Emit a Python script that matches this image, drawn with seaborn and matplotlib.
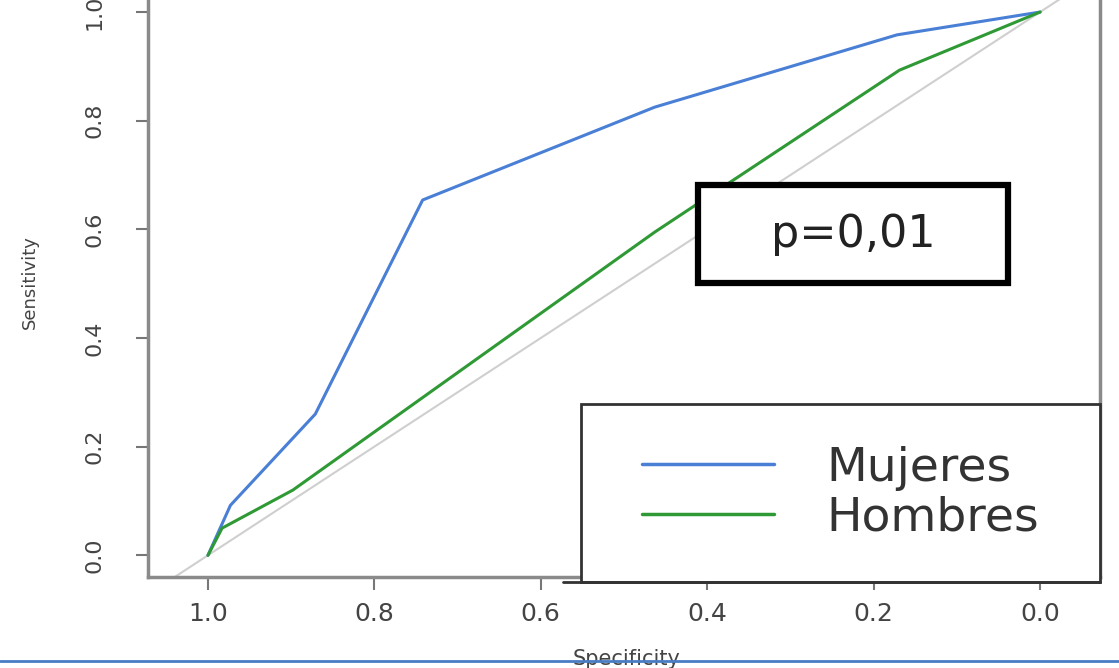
import matplotlib
matplotlib.use("Agg")
import matplotlib.pyplot as plt
import pandas as pd
import seaborn as sns
from matplotlib.lines import Line2D
from matplotlib.patches import Rectangle

# ROC points (specificity, sensitivity)
mujeres_spec = [1.0, 0.973, 0.871, 0.742, 0.463, 0.172, 0.0]
mujeres_sens = [0.0, 0.092, 0.26, 0.654, 0.825, 0.958, 1.0]
hombres_spec = [1.0, 0.983, 0.898, 0.463, 0.169, 0.0]
hombres_sens = [0.0, 0.05, 0.12, 0.595, 0.893, 1.0]
chance_spec = [1.0, 0.0]
chance_sens = [0.0, 1.0]

series_names = ["Mujeres", "Hombres"]
series_colors = ["#4a7fd6", "#2f9a35"]
tick_values = [0.0, 0.2, 0.4, 0.6, 0.8, 1.0]
p_label = "p=0,01"

df = pd.concat([
    pd.DataFrame({"spec": mujeres_spec, "sens": mujeres_sens, "grupo": "Mujeres"}),
    pd.DataFrame({"spec": hombres_spec, "sens": hombres_sens, "grupo": "Hombres"}),
], ignore_index=True)

sns.set_style("white")
plt.rcParams["font.family"] = ["DejaVu Sans"]

fig = plt.figure(figsize=(11.19, 6.68), dpi=100)
ax = fig.add_axes([0.1323, 0.1362, 0.8507, 0.8783])

# chance diagonal
ax.axline((chance_spec[0], chance_sens[0]), (chance_spec[1], chance_sens[1]),
          color="#cfcfcf", lw=1.5, zorder=1)

sns.lineplot(data=df, x="spec", y="sens", hue="grupo", hue_order=series_names,
             palette=series_colors, sort=False, estimator=None, units="grupo",
             lw=2.2, ax=ax, legend=False, zorder=3)

ax.set_xlim(1.072, -0.072)
ax.set_ylim(-0.04, 1.04)
ax.set_xticks(tick_values)
ax.set_yticks(tick_values)
ax.set_xticklabels([f"{v:.1f}" for v in tick_values], fontsize=18, color="#444444")
ax.set_yticklabels([f"{v:.1f}" for v in tick_values], fontsize=16, color="#444444",
                   rotation=90, va="center")
ax.tick_params(axis="both", direction="out", length=9, width=1.5, color="#777777",
               left=True, bottom=True)
ax.tick_params(axis="x", pad=9)
ax.tick_params(axis="y", pad=22)

for side in ["left", "bottom", "right"]:
    ax.spines[side].set_color("#8a8a8a")
    ax.spines[side].set_linewidth(2.5)
ax.spines["top"].set_visible(False)

ax.set_xlabel("Specificity", fontsize=15, color="#444444")
ax.set_ylabel("Sensitivity", fontsize=13, color="#444444")
ax.xaxis.set_label_coords(0.503, -0.123)
ax.yaxis.set_label_coords(-0.115, 0.503)

# p-value box
ax.add_patch(Rectangle((0.578, 0.501), 0.3256, 0.167, transform=ax.transAxes,
                       facecolor="white", edgecolor="black", lw=4.5,
                       zorder=5, clip_on=False))
ax.text(0.7405, 0.583, p_label, transform=ax.transAxes, fontsize=32,
        ha="center", va="center", color="#222222", zorder=6)

# legend box
ax.add_patch(Rectangle((0.455, -0.0085), 0.545, 0.303, transform=ax.transAxes,
                       facecolor="white", edgecolor="#333333", lw=2,
                       zorder=5, clip_on=False))
handles = [Line2D([], [], color=c, lw=2.5) for c in series_colors]
leg = ax.legend(handles, series_names, loc="center",
                bbox_to_anchor=(0.455, -0.0085, 0.545, 0.303),
                bbox_transform=ax.transAxes, frameon=False, fontsize=34,
                handlelength=2.8, handletextpad=1.1, labelspacing=0.1)
leg.set_zorder(6)
for t in leg.get_texts():
    t.set_color("#333333")

# stray frame line under the legend and blue page rule at the bottom
fig.add_artist(Line2D([0.503, 0.983], [1 - 582 / 668, 1 - 582 / 668],
                      color="#333333", lw=2))
fig.add_artist(Line2D([0, 1], [1 - 661 / 668, 1 - 661 / 668],
                      color="#4a7cc4", lw=2))

fig.savefig("out.png", dpi=100)
